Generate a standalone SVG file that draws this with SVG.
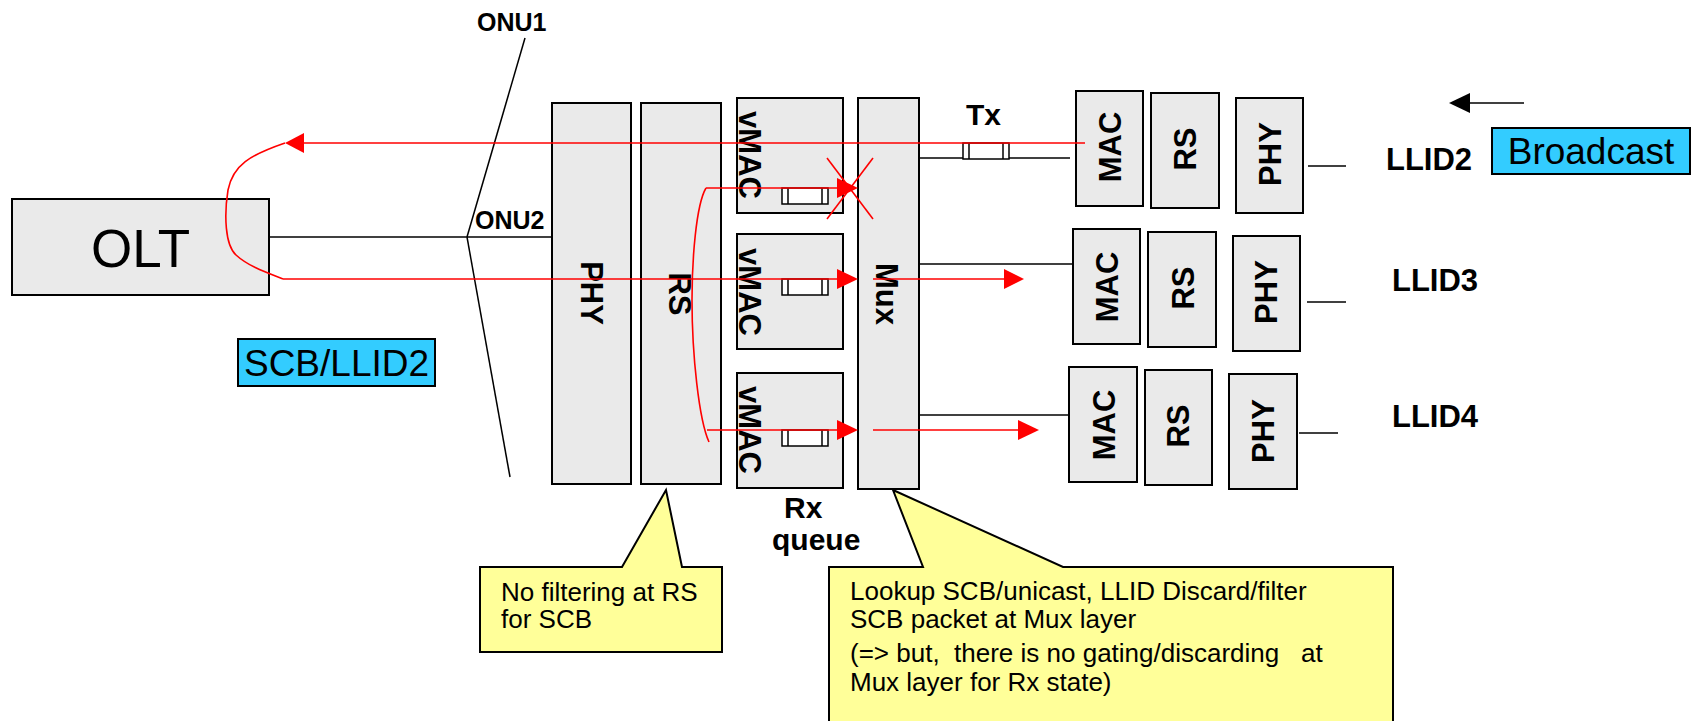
<svg xmlns="http://www.w3.org/2000/svg" width="1695" height="721" viewBox="0 0 1695 721">
<style>
.box{fill:#EAEAEA;stroke:#000;stroke-width:2}
.q{fill:#fff;stroke:#000;stroke-width:1.5}
.ln{stroke:#000;stroke-width:1.5;fill:none}
.red{stroke:#FF0000;stroke-width:1.6;fill:none}
.ah{fill:#FF0000}
.t{font-family:"Liberation Sans",Arial,sans-serif;fill:#000}
.b{font-weight:bold}
.lab{fill:#33CCFF;stroke:#000;stroke-width:2}
.call{fill:#FFFF99;stroke:#000;stroke-width:2}
</style>
<rect width="1695" height="721" fill="#fff"/>

<g id="olt">
  <rect class="box" x="12" y="199" width="257" height="96"/>
  <text class="t" x="140.5" y="267" font-size="53" text-anchor="middle">OLT</text>
</g>
<g id="onu-labels">
  <text class="t b" x="477" y="31" font-size="25">ONU1</text>
  <text class="t b" x="475" y="229" font-size="25">ONU2</text>
</g>
<g id="scb-label">
  <rect class="lab" x="238" y="339" width="197" height="47"/>
  <text class="t" x="336.5" y="376" font-size="37" text-anchor="middle">SCB/LLID2</text>
</g>

<g id="onu-phy">
  <rect class="box" x="552" y="103" width="79" height="381"/>
  <text class="t b" font-size="31" text-anchor="middle" transform="translate(592,293) rotate(90)" y="11">PHY</text>
</g>
<g id="onu-rs">
  <rect class="box" x="641" y="103" width="80" height="381"/>
  <text class="t b" font-size="31" text-anchor="middle" transform="translate(680,294) rotate(90)" y="11">RS</text>
</g>
<g id="vmac1">
  <rect class="box" x="737" y="98" width="106" height="115"/>
  <text class="t b" font-size="31" text-anchor="middle" transform="translate(750,155) rotate(90)" y="11">vMAC</text>
  <rect class="q" x="782" y="188" width="46" height="16"/>
  <line class="ln" x1="788" y1="188" x2="788" y2="204"/>
  <line class="ln" x1="822" y1="188" x2="822" y2="204"/>
</g>
<g id="vmac2">
  <rect class="box" x="737" y="234" width="106" height="115"/>
  <text class="t b" font-size="31" text-anchor="middle" transform="translate(750,292) rotate(90)" y="11">vMAC</text>
  <rect class="q" x="782" y="279" width="46" height="16"/>
  <line class="ln" x1="788" y1="279" x2="788" y2="295"/>
  <line class="ln" x1="822" y1="279" x2="822" y2="295"/>
</g>
<g id="vmac3">
  <rect class="box" x="737" y="373" width="106" height="115"/>
  <text class="t b" font-size="31" text-anchor="middle" transform="translate(750,430) rotate(90)" y="11">vMAC</text>
  <rect class="q" x="782" y="430" width="46" height="16"/>
  <line class="ln" x1="788" y1="430" x2="788" y2="446"/>
  <line class="ln" x1="822" y1="430" x2="822" y2="446"/>
</g>
<g id="mux">
  <rect class="box" x="858" y="98" width="61" height="391"/>
  <text class="t b" font-size="31" text-anchor="middle" transform="translate(887,294) rotate(90)" y="11">Mux</text>
</g>
<g id="tx-label">
  <text class="t b" x="966" y="125" font-size="30">Tx</text>
</g>
<g id="rx-label">
  <text class="t b" x="784" y="518" font-size="30">Rx</text>
  <text class="t b" x="772" y="550" font-size="30">queue</text>
</g>

<g id="llid2">
  <rect class="box" x="1076" y="91" width="67" height="115"/>
  <text class="t b" font-size="31" text-anchor="middle" transform="translate(1110,147) rotate(-90)" y="11">MAC</text>
  <rect class="box" x="1151" y="93" width="68" height="115"/>
  <text class="t b" font-size="31" text-anchor="middle" transform="translate(1185,149) rotate(-90)" y="11">RS</text>
  <rect class="box" x="1236" y="98" width="67" height="115"/>
  <text class="t b" font-size="31" text-anchor="middle" transform="translate(1270,154) rotate(-90)" y="11">PHY</text>
  <text class="t b" x="1386" y="170" font-size="31">LLID2</text>
</g>
<g id="llid3">
  <rect class="box" x="1073" y="229" width="67" height="115"/>
  <text class="t b" font-size="31" text-anchor="middle" transform="translate(1107,287) rotate(-90)" y="11">MAC</text>
  <rect class="box" x="1148" y="232" width="68" height="115"/>
  <text class="t b" font-size="31" text-anchor="middle" transform="translate(1183,288) rotate(-90)" y="11">RS</text>
  <rect class="box" x="1233" y="236" width="67" height="115"/>
  <text class="t b" font-size="31" text-anchor="middle" transform="translate(1266,292) rotate(-90)" y="11">PHY</text>
  <text class="t b" x="1392" y="291" font-size="31">LLID3</text>
</g>
<g id="llid4">
  <rect class="box" x="1069" y="367" width="68" height="115"/>
  <text class="t b" font-size="31" text-anchor="middle" transform="translate(1104,425) rotate(-90)" y="11">MAC</text>
  <rect class="box" x="1145" y="370" width="67" height="115"/>
  <text class="t b" font-size="31" text-anchor="middle" transform="translate(1178,426) rotate(-90)" y="11">RS</text>
  <rect class="box" x="1229" y="374" width="68" height="115"/>
  <text class="t b" font-size="31" text-anchor="middle" transform="translate(1263,431) rotate(-90)" y="11">PHY</text>
  <text class="t b" x="1392" y="427" font-size="31">LLID4</text>
</g>
<g id="broadcast">
  <rect class="lab" x="1492" y="128" width="198" height="46"/>
  <text class="t" x="1591" y="164" font-size="37" text-anchor="middle">Broadcast</text>
</g>

<g id="callout-rs">
  <polygon class="call" points="480,567 622,567 666,490 682,567 722,567 722,652 480,652"/>
  <text class="t" x="501" y="601" font-size="26">No filtering at RS</text>
  <text class="t" x="501" y="628" font-size="26">for SCB</text>
</g>
<g id="callout-mux">
  <polygon class="call" points="829,567 923,567 893,490 1063,567 1393,567 1393,725 829,725"/>
  <text class="t" x="850" y="600" font-size="26">Lookup SCB/unicast, LLID Discard/filter</text>
  <text class="t" x="850" y="628" font-size="26">SCB packet at Mux layer</text>
  <text class="t" x="850" y="662" font-size="26" xml:space="preserve">(=&gt; but,  there is no gating/discarding   at</text>
  <text class="t" x="850" y="691" font-size="26">Mux layer for Rx state)</text>
</g>

<g id="connectors">
  <!-- ONU splitter lines -->
  <line class="ln" x1="525" y1="38" x2="467" y2="237"/>
  <line class="ln" x1="467" y1="237" x2="510" y2="477"/>
  <line class="ln" x1="269" y1="237" x2="552" y2="237"/>
  <!-- Mux to MACs -->
  <line class="ln" x1="919" y1="158" x2="1070" y2="158"/>
  <line class="ln" x1="919" y1="264" x2="1073" y2="264"/>
  <line class="ln" x1="919" y1="415" x2="1069" y2="415"/>
  <!-- PHY stubs -->
  <line class="ln" x1="1308" y1="166" x2="1346" y2="166"/>
  <line class="ln" x1="1307" y1="302" x2="1346" y2="302"/>
  <line class="ln" x1="1299" y1="433" x2="1338" y2="433"/>
  <!-- Tx queue -->
  <rect class="q" x="963" y="143" width="46" height="16"/>
  <line class="ln" x1="969" y1="143" x2="969" y2="159"/>
  <line class="ln" x1="1003" y1="143" x2="1003" y2="159"/>
  <!-- black broadcast arrow -->
  <line class="ln" x1="1466" y1="103" x2="1524" y2="103" stroke-width="2"/>
  <polygon points="1449,103 1470,93 1470,113" fill="#000"/>
  <!-- red paths -->
  <line class="red" x1="300" y1="143" x2="1085" y2="143"/>
  <polygon class="ah" points="285,143 304,133 304,153"/>
  <path class="red" d="M285,143 C250,155 233,165 228,190 C224,215 225,245 236,255 C248,266 265,272 283,279"/>
  <line class="red" x1="283" y1="279" x2="840" y2="279"/>
  <polygon class="ah" points="858,279 837,269 837,289"/>
  <line class="red" x1="873" y1="279" x2="1006" y2="279"/>
  <polygon class="ah" points="1024,279 1004,269 1004,289"/>
  <path class="red" d="M706,188 C696,205 692,260 692,300 C692,355 699,420 709,442"/>
  <line class="red" x1="706" y1="188" x2="840" y2="188"/>
  <polygon class="ah" points="858,188 837,178 837,198"/>
  <line class="red" x1="707" y1="430" x2="840" y2="430"/>
  <polygon class="ah" points="858,430 837,420 837,440"/>
  <line class="red" x1="873" y1="430" x2="1020" y2="430"/>
  <polygon class="ah" points="1039,430 1018,420 1018,440"/>
  <!-- X mark -->
  <line class="red" x1="827" y1="158" x2="873" y2="219"/>
  <line class="red" x1="873" y1="158" x2="827" y2="219"/>
</g>
</svg>
